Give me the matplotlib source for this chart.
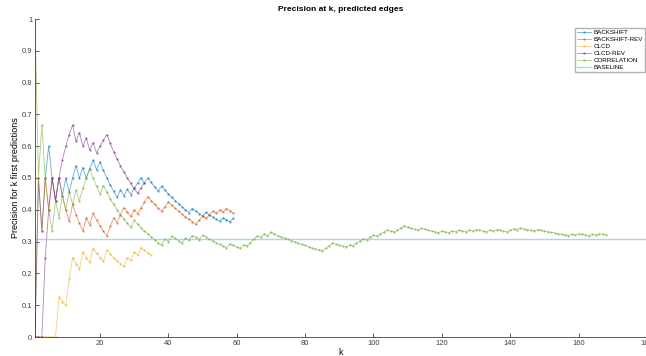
import numpy as np
import matplotlib.pyplot as plt

plt.rcParams['font.family'] = ['Liberation Sans', 'DejaVu Sans']

# precision at k for each method
backshift = [0, 0.5, 0.333, 0.5, 0.6, 0.5, 0.429, 0.5, 0.444, 0.5,
             0.455, 0.5, 0.538, 0.5, 0.533, 0.5, 0.529, 0.556, 0.526, 0.55,
             0.524, 0.5, 0.478, 0.458, 0.44, 0.462, 0.444, 0.464, 0.448, 0.467,
             0.484, 0.5, 0.485, 0.5, 0.486, 0.472, 0.459, 0.474, 0.462, 0.45,
             0.439, 0.429, 0.419, 0.409, 0.4, 0.391, 0.404, 0.396, 0.388, 0.38,
             0.392, 0.385, 0.377, 0.37, 0.364, 0.375, 0.368, 0.362, 0.373]
backshift_rev = [0, 0.5, 0.333, 0.5, 0.4, 0.5, 0.429, 0.5, 0.444, 0.4,
                 0.364, 0.417, 0.385, 0.357, 0.333, 0.375, 0.353, 0.389, 0.368, 0.35,
                 0.333, 0.318, 0.348, 0.375, 0.36, 0.385, 0.407, 0.393, 0.379, 0.4,
                 0.387, 0.406, 0.424, 0.441, 0.429, 0.417, 0.405, 0.395, 0.41, 0.425,
                 0.415, 0.405, 0.395, 0.386, 0.378, 0.37, 0.362, 0.354, 0.367, 0.38,
                 0.373, 0.385, 0.396, 0.389, 0.4, 0.393, 0.404, 0.397, 0.39]
clcd = [0, 0, 0, 0, 0, 0, 0, 0.125, 0.111, 0.1,
        0.182, 0.25, 0.231, 0.214, 0.267, 0.25, 0.235, 0.278, 0.263, 0.25,
        0.238, 0.273, 0.261, 0.25, 0.24, 0.231, 0.222, 0.25, 0.241, 0.267,
        0.258, 0.281, 0.273, 0.265, 0.257]
clcd_rev = [0, 0, 0, 0.25, 0.4, 0.5, 0.429, 0.5, 0.556, 0.6,
            0.636, 0.667, 0.615, 0.643, 0.6, 0.625, 0.588, 0.611, 0.579, 0.6,
            0.619, 0.636, 0.609, 0.583, 0.56, 0.538, 0.519, 0.5, 0.483, 0.467,
            0.452, 0.469, 0.485]
correlation = [1, 0.5, 0.667, 0.5, 0.4, 0.333, 0.429, 0.375, 0.444, 0.4,
               0.455, 0.417, 0.462, 0.429, 0.467, 0.5, 0.529, 0.5, 0.474, 0.45,
               0.476, 0.455, 0.435, 0.417, 0.4, 0.385, 0.37, 0.357, 0.345, 0.367,
               0.355, 0.344, 0.333, 0.324, 0.314, 0.306, 0.297, 0.289, 0.308, 0.3,
               0.317, 0.31, 0.302, 0.295, 0.311, 0.304, 0.319, 0.313, 0.306, 0.32,
               0.314, 0.308, 0.302, 0.296, 0.291, 0.286, 0.281, 0.293, 0.288, 0.283,
               0.279, 0.29, 0.286, 0.297, 0.308, 0.318, 0.313, 0.324, 0.319, 0.329,
               0.324, 0.319, 0.315, 0.311, 0.307, 0.303, 0.299, 0.295, 0.291, 0.288,
               0.284, 0.28, 0.277, 0.274, 0.271, 0.279, 0.287, 0.295, 0.292, 0.289,
               0.286, 0.283, 0.29, 0.287, 0.295, 0.302, 0.309, 0.306, 0.313, 0.32,
               0.317, 0.324, 0.33, 0.337, 0.333, 0.33, 0.336, 0.343, 0.349, 0.345,
               0.342, 0.339, 0.336, 0.342, 0.339, 0.336, 0.333, 0.331, 0.328, 0.333,
               0.331, 0.328, 0.333, 0.331, 0.336, 0.333, 0.331, 0.336, 0.333, 0.338,
               0.336, 0.333, 0.331, 0.336, 0.333, 0.338, 0.336, 0.333, 0.331, 0.336,
               0.34, 0.338, 0.343, 0.34, 0.338, 0.336, 0.333, 0.338, 0.336, 0.333,
               0.331, 0.329, 0.327, 0.325, 0.323, 0.321, 0.318, 0.323, 0.321, 0.325,
               0.323, 0.321, 0.319, 0.323, 0.321, 0.325, 0.323, 0.321]
baseline = 0.307

series = [('BACKSHIFT', backshift, '#0072BD'),
          ('BACKSHIFT-REV', backshift_rev, '#D95319'),
          ('CLCD', clcd, '#EDB120'),
          ('CLCD-REV', clcd_rev, '#7E2F8E'),
          ('CORRELATION', correlation, '#77AC30')]

fig = plt.figure(figsize=(6.46, 3.56), dpi=100)
ax = fig.add_axes([35 / 646, 1 - 337 / 356, 612 / 646, 318 / 356])

for name, vals, col in series:
    k = np.arange(1, len(vals) + 1)
    ax.plot(k, vals, color=col, lw=0.6, marker='.', ms=1.3, alpha=0.6, label=name)
ax.axhline(baseline, color='#4DBEEE', lw=1.0, alpha=0.55, label='BASELINE')

ax.set_xlim(1, 180)
ax.set_ylim(0, 1)
ax.set_xticks(np.arange(20, 181, 20))
ax.set_yticks(np.arange(0, 1.01, 0.1))
ax.set_yticklabels(['0', '0.1', '0.2', '0.3', '0.4', '0.5', '0.6', '0.7', '0.8', '0.9', '1'])
ax.tick_params(direction='in', length=3, width=0.6, labelsize=5.5, colors='#404040', pad=2)
for s in ['top', 'right']:
    ax.spines[s].set_visible(False)
for s in ['left', 'bottom']:
    ax.spines[s].set_color('#404040')
    ax.spines[s].set_linewidth(0.6)

ax.set_title('Precision at k, predicted edges', fontsize=6, fontweight='bold', pad=6)
ax.set_xlabel('k', fontsize=6.5, labelpad=1)
ax.set_ylabel('Precision for k first predictions', fontsize=6.5, labelpad=1)

ax.legend(loc='upper right', bbox_to_anchor=(0.997, 0.972), borderaxespad=0,
          fontsize=4.5, frameon=True, fancybox=False, edgecolor='#a0a0a0',
          handlelength=2.3, labelspacing=0.25, borderpad=0.3, handletextpad=0.4)

fig.savefig('out.png', dpi=100)
